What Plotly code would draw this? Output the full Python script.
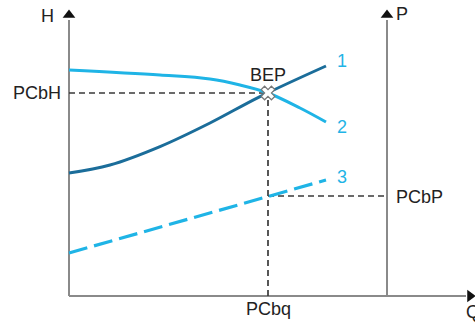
import plotly.graph_objects as go

# Schematic data (Q: flow units, H/P: head/power units)
curve1_q = [0, 20.5, 45.5, 70.5, 95.5, 128.5]
curve1_h = [61.5, 65.5, 74.7, 86.5, 99.7, 115]
curve2_q = [0, 45.5, 70.5, 85.5, 99.5, 115.5, 128.5]
curve2_h = [113, 110.5, 108.5, 105.5, 101.5, 94, 87]
curve3_q = [0, 128.5]
curve3_p = [21.5, 58]

bep_q = 99.5
bep_h = 101.5
bep_p = 50
q_axis_end = 198.5
p_axis_q = 159
h_axis_top = 138

DARK = "#1b6d9a"
LIGHT = "#1fb4e6"
AXIS = "#8a8a8a"
TXT = "#222222"
FONT = "Liberation Sans, Arial, sans-serif"

fig = go.Figure()

# axes lines
fig.add_trace(go.Scatter(x=[0, 0], y=[0, h_axis_top], mode="lines",
                         line=dict(color=AXIS, width=2), hoverinfo="skip"))
fig.add_trace(go.Scatter(x=[p_axis_q, p_axis_q], y=[0, h_axis_top], mode="lines",
                         line=dict(color=AXIS, width=2), hoverinfo="skip"))
fig.add_trace(go.Scatter(x=[0, q_axis_end], y=[0, 0], mode="lines",
                         line=dict(color=AXIS, width=2), hoverinfo="skip"))
# arrow heads
fig.add_trace(go.Scatter(x=[0, p_axis_q], y=[140.5, 140.5], mode="markers",
                         marker=dict(symbol="triangle-up", size=11, color="#111"),
                         hoverinfo="skip"))
fig.add_trace(go.Scatter(x=[200.5], y=[0], mode="markers",
                         marker=dict(symbol="triangle-right", size=11, color="#111"),
                         hoverinfo="skip"))

# dashed guide lines
guide = dict(color="#3a3a3a", width=1.7, dash="6px,4px")
fig.add_trace(go.Scatter(x=[0, bep_q], y=[bep_h, bep_h], mode="lines", line=guide, hoverinfo="skip"))
fig.add_trace(go.Scatter(x=[bep_q, bep_q], y=[0, bep_h], mode="lines", line=guide, hoverinfo="skip"))
fig.add_trace(go.Scatter(x=[bep_q, p_axis_q], y=[bep_p, bep_p], mode="lines", line=guide, hoverinfo="skip"))

# curves
fig.add_trace(go.Scatter(x=curve3_q, y=curve3_p, mode="lines",
                         line=dict(color=LIGHT, width=3.2, dash="19px,7px"), hoverinfo="skip"))
fig.add_trace(go.Scatter(x=curve1_q, y=curve1_h, mode="lines",
                         line=dict(color=DARK, width=3, shape="spline"), hoverinfo="skip"))
fig.add_trace(go.Scatter(x=curve2_q, y=curve2_h, mode="lines",
                         line=dict(color=LIGHT, width=3, shape="spline"), hoverinfo="skip"))

# BEP marker
fig.add_trace(go.Scatter(x=[bep_q], y=[bep_h], mode="markers",
                         marker=dict(symbol="x", size=12, color="white",
                                     line=dict(color="#777777", width=1.2)),
                         hoverinfo="skip"))

def ann(x, y, text, color=TXT, size=18, xanchor="center"):
    fig.add_annotation(x=x, y=y, text=text, showarrow=False, xanchor=xanchor,
                       yanchor="middle", font=dict(family=FONT, size=size, color=color))

ann(-6.5, 140, "H", xanchor="right")
ann(162.5, 141, "P", xanchor="left")
ann(-3, bep_h, "PCbH", xanchor="right")
ann(bep_q, -6.5, "PCbq")
ann(162.5, 49.3, "PCbP", xanchor="left")
ann(197.5, -8, "Q", xanchor="left")
ann(bep_q, 110.3, "BEP")
ann(136.5, 117.3, "1", color=LIGHT)
ann(136.5, 84.3, "2", color=LIGHT)
ann(136.5, 59.5, "3", color=LIGHT)

fig.update_layout(
    width=475, height=325,
    margin=dict(l=0, r=0, t=0, b=0, pad=0, autoexpand=False),
    paper_bgcolor="white", plot_bgcolor="white",
    showlegend=False,
    hovermode=False,
    xaxis=dict(range=[-34.5, 203], visible=False, fixedrange=True),
    yaxis=dict(range=[-14.5, 148], visible=False, fixedrange=True),
)

# remove the browser's default 8px body margin so the figure fills the window
fig.write_html("out.html",
               config={"displayModeBar": False, "staticPlot": True},
               post_script="document.body.style.margin='0';document.body.style.overflow='hidden';")
